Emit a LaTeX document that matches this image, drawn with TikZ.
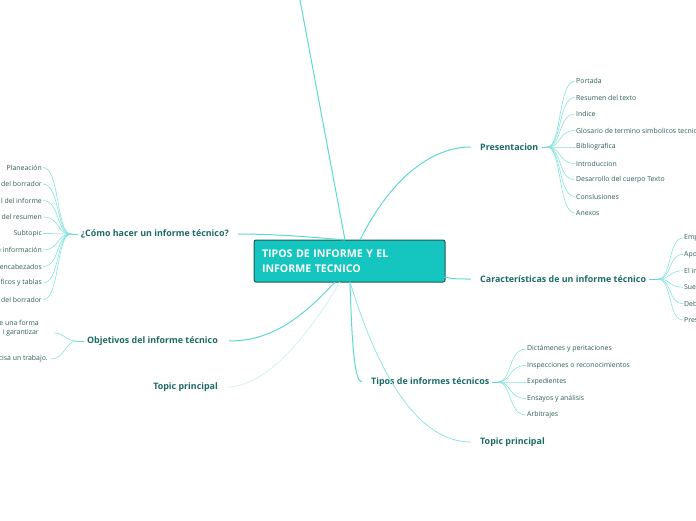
\documentclass[tikz,border=0pt]{standalone}
\usepackage{fontspec}
\setmainfont{Open Sans}
\definecolor{tealtxt}{HTML}{1B6A64}
\definecolor{subtxt}{HTML}{2E5C58}
\definecolor{lnk}{HTML}{5ED8D0}
\definecolor{boxf}{HTML}{14C6BF}
\definecolor{boxd}{HTML}{1E5A57}
\begin{document}
\begin{tikzpicture}[x=1pt,y=-1pt,
  topic/.style={font=\bfseries\fontsize{8.9}{10}\selectfont,text=tealtxt,inner sep=1pt},
  sub/.style={font=\fontsize{6.9}{9.5}\selectfont,text=subtxt,inner sep=1pt},
  lk/.style={draw=lnk,line width=1pt},
  fan/.style={draw=lnk!75,line width=0.6pt}]
\useasboundingbox (0,0) rectangle (696,520);
\node[draw=boxd,fill=boxf,rounded corners=2pt,line width=1pt,minimum width=191pt,minimum height=42pt,
  text width=175pt,align=left,font=\bfseries\fontsize{10.6}{15}\selectfont,text=white] (root) at (349.5,261)
  {TIPOS DE INFORME Y EL\\INFORME TECNICO};
\coordinate (top) at (300,0);
\draw[lk] (345,240) -- (top);
% topics
\node[topic,anchor=west] (pres) at (479,147) {Presentacion};
\node[topic,anchor=west] (car) at (479,279) {Características de un informe técnico};
\node[topic,anchor=west] (tip) at (370,382) {Tipos de informes técnicos};
\node[topic,anchor=west] (tp1) at (479,442) {Topic principal};
\node[topic,anchor=east] (tp2) at (219,387) {Topic principal};
\node[topic,anchor=east] (obj) at (219,341) {Objetivos del informe técnico};
\node[topic,anchor=east] (com) at (230,234) {¿Cómo hacer un informe técnico?};
\draw[lk] (360,240) .. controls (390,180) and (430,147) .. ([xshift=-8pt]pres.west);
\draw[lk] (444,277) .. controls (455,279) .. ([xshift=-8pt]car.west);
\draw[lk] (350,282) .. controls (352,350) and (355,382) .. ([xshift=-8pt]tip.west);
\draw[draw=lnk!70,line width=0.8pt] (350,282) .. controls (380,380) and (420,442) .. ([xshift=-8pt]tp1.west);
\draw[draw=lnk!30,line width=0.8pt] (340,282) .. controls (300,350) and (260,387) .. ([xshift=8pt]tp2.east);
\draw[lk] (335,282) .. controls (300,320) and (270,341) .. ([xshift=10pt]obj.east);
\draw[lk] (345,240) .. controls (300,236) and (270,234) .. ([xshift=8pt]com.east);
% Presentacion children
\coordinate (pf) at (547,147);
\draw[lk] ([xshift=2pt]pres.east) -- (pf);
\foreach \t [count=\i] in {Portada,Resumen del texto,Indice,Glosario de termino simbolicos tecnicos,Bibliografica,Introduccion,Desarrollo del cuerpo Texto,Conslusiones,Anexos}{
  \node[sub,anchor=west] (p\i) at (575,{81+16.5*(\i-1)}) {\t};
  \draw[fan] (pf) .. controls (562,147) and (558,{81+16.5*(\i-1)}) .. (p\i.west);
}
% Caracteristicas children
\coordinate (cf) at (658,279);
\draw[lk] ([xshift=2pt]car.east) -- (cf);
\foreach \t [count=\i] in {Emp,Apo,El in,Sue,Deb,Pres}{
  \node[sub,anchor=west] (k\i) at (683,{238+16.4*(\i-1)}) {\t};
  \draw[fan] (cf) .. controls (672,279) and (668,{238+16.4*(\i-1)}) .. (k\i.west);
}
% Tipos children
\coordinate (tf) at (498,382);
\draw[lk] ([xshift=2pt]tip.east) -- (tf);
\foreach \t [count=\i] in {Dictámenes y peritaciones,Inspecciones o reconocimientos,Expedientes,Ensayos y análisis,Arbitrajes}{
  \node[sub,anchor=west] (t\i) at (526,{349+16.5*(\i-1)}) {\t};
  \draw[fan] (tf) .. controls (512,382) and (508,{349+16.5*(\i-1)}) .. (t\i.west);
}
% Como children
\coordinate (mf) at (71,234);
\draw[lk] ([xshift=-2pt]com.west) -- (mf);
\foreach \t [count=\i] in {Planeación,del borrador,l del informe,del resumen,Subtopic,e información,encabezados,ficos y tablas,del borrador}{
  \node[sub,anchor=east] (m\i) at (43,{167.5+16.5*(\i-1)}) {\t};
  \draw[fan] (mf) .. controls (56,234) and (60,{167.5+16.5*(\i-1)}) .. (m\i.east);
}
% Objetivos children
\coordinate (of) at (77,341);
\draw[lk] ([xshift=-2pt]obj.west) -- (of);
\node[sub,anchor=east,align=right] (o1) at (40,328) {e una forma\\i garantizar};
\node[sub,anchor=east] (o2) at (49,359) {cisa un trabajo.};
\draw[fan] (of) .. controls (65,341) and (65,333) .. (54,333);
\draw[fan] (of) .. controls (65,341) and (65,359) .. ([xshift=2pt]o2.east);
\end{tikzpicture}
\end{document}
